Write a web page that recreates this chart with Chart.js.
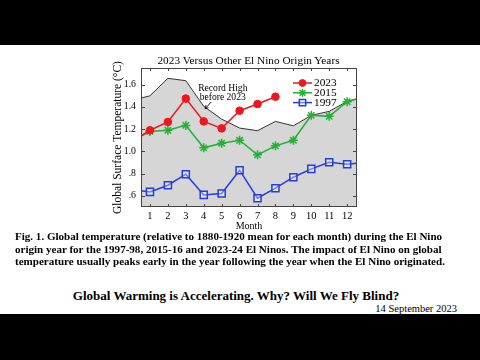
<!DOCTYPE html>
<html><head><meta charset="utf-8">
<script src="https://cdn.jsdelivr.net/npm/chart.js@4.4.0/dist/chart.umd.min.js"></script>
<style>
html,body{margin:0;padding:0;background:#000;width:480px;height:360px;overflow:hidden;font-family:"Liberation Serif","Times New Roman",serif;}
#page{position:absolute;left:0;top:45px;width:480px;height:269px;background:#fff;}
#chart{position:absolute;left:0;top:0;}
.t{position:absolute;white-space:nowrap;color:#000;}
#title{left:0;width:497px;text-align:center;top:8px;font-size:11.3px;line-height:14px;}
.cap{left:15px;font-weight:bold;font-size:11.05px;line-height:12.3px;}
#head{left:0;width:472px;text-align:center;top:243px;font-weight:bold;font-size:13px;line-height:16px;}
#date{right:23px;top:258px;font-size:10.5px;line-height:12px;}
</style></head>
<body>
<div id="page">
<canvas id="chart" width="480" height="190"></canvas>
<div class="t" id="title">2023 Versus Other El Nino Origin Years</div>
<div class="t cap" style="top:185px">Fig. 1. Global temperature (relative to 1880-1920 mean for each month) during the El Nino</div>
<div class="t cap" style="top:197.5px">origin year for the 1997-98, 2015-16 and 2023-24 El Ninos. The impact of El Nino on global</div>
<div class="t cap" style="top:210px">temperature usually peaks early in the year following the year when the El Nino originated.</div>
<div class="t" id="head">Global Warming is Accelerating. Why? Will We Fly Blind?</div>
<div class="t" id="date">14 September 2023</div>
</div>
<script>
// month index: 0 = previous December (edge of plot), 13 = following January (edge of plot)
const months = [0,1,2,3,4,5,6,7,8,9,10,11,12,13];
const y2023 = [1.09,1.19,1.265,1.475,1.27,1.207,1.366,1.426,1.492,null,null,null,null,null];
const y2015 = [1.09,1.18,1.19,1.234,1.032,1.074,1.10,0.969,1.05,1.10,1.324,1.315,1.447,1.49];
const y1997 = [0.655,0.636,0.696,0.795,0.609,0.621,0.831,0.579,0.669,0.768,0.843,0.903,0.885,0.90];
const recordHigh = [1.46,1.50,1.657,1.636,1.405,1.29,1.21,1.186,1.27,1.23,1.324,1.36,1.45,1.494];
const xTicks = [1,2,3,4,5,6,7,8,9,10,11,12];
const yTicks = [0.6,0.8,1.0,1.2,1.4,1.6];
const yTickLabels = ['.6','.8','1.0','1.2','1.4','1.6'];
const seriesNames = ['2023','2015','1997'];
const annotation = {lines:['Record High','before 2023'], x:4.08, y:1.385};

const RED='rgb(236,24,30)', GREEN='rgb(34,177,52)', BLUE='rgb(35,60,225)';
const toXY = arr => months.map((m,i)=>({x:m,y:arr[i]}));
const serif = '"Liberation Serif","Times New Roman",serif';

const framePlugin = {
  id:'frame',
  afterDatasetsDraw(chart){
    const {ctx, chartArea:a, scales:{x,y}} = chart;
    ctx.save();
    ctx.strokeStyle='#444'; ctx.lineWidth=1;
    ctx.strokeRect(a.left+0.5,a.top+0.5,a.right-a.left-1,a.bottom-a.top-1);
    ctx.beginPath();
    yTicks.forEach(v=>{const p=Math.round(y.getPixelForValue(v))+0.5;
      ctx.moveTo(a.left,p);ctx.lineTo(a.left+4,p);ctx.moveTo(a.right,p);ctx.lineTo(a.right-4,p);});
    xTicks.forEach(v=>{const p=Math.round(x.getPixelForValue(v))+0.5;
      ctx.moveTo(p,a.bottom);ctx.lineTo(p,a.bottom-3);ctx.moveTo(p,a.top);ctx.lineTo(p,a.top+3);});
    ctx.stroke();
    // annotation
    const ax=x.getPixelForValue(annotation.x), ay=y.getPixelForValue(annotation.y);
    ctx.fillStyle='#000'; ctx.font='9.6px '+serif; ctx.textAlign='left'; ctx.textBaseline='middle';
    ctx.fillText(annotation.lines[0], ax-7, ay-20.5);
    ctx.fillText(annotation.lines[1], ax-5.5, ay-11.5);
    ctx.beginPath(); ctx.strokeStyle='#000'; ctx.lineWidth=0.9;
    ctx.moveTo(ax+6,ay-6.5); ctx.lineTo(ax,ay);
    ctx.moveTo(ax,ay); ctx.lineTo(ax+0.8,ay-3.5); ctx.moveTo(ax,ay); ctx.lineTo(ax+3.3,ay-0.8);
    ctx.stroke();
    // legend
    const ds = chart.data.datasets.slice(0,3);
    const lx0=a.right-64, lx1=a.right-45, ly0=a.top+15;
    ds.forEach((d,i)=>{
      const ly=ly0+i*9.8;
      ctx.beginPath(); ctx.strokeStyle=d.borderColor; ctx.lineWidth=1.5;
      ctx.moveTo(lx0,ly); ctx.lineTo(lx1,ly); ctx.stroke();
      ctx.fillStyle=d.pointBackgroundColor; ctx.strokeStyle=d.pointBorderColor; ctx.lineWidth=d.pointBorderWidth;
      Chart.helpers.drawPoint(ctx,{pointStyle:d.pointStyle,radius:d.pointRadius*0.9,borderWidth:d.pointBorderWidth},(lx0+lx1)/2,ly);
      ctx.fillStyle='#000'; ctx.font='11.3px '+serif; ctx.textAlign='left'; ctx.textBaseline='middle';
      ctx.fillText(seriesNames[i], lx1+2, ly+0.5);
    });
    ctx.restore();
  }
};

new Chart(document.getElementById('chart'),{
  type:'line',
  data:{datasets:[
    {label:seriesNames[0],data:toXY(y2023),borderColor:RED,backgroundColor:RED,borderWidth:1.5,pointStyle:'circle',pointRadius:3.8,pointBorderWidth:1,pointBackgroundColor:RED,pointBorderColor:RED,clip:0,order:1},
    {label:seriesNames[1],data:toXY(y2015),borderColor:GREEN,backgroundColor:GREEN,borderWidth:1.5,pointStyle:'star',pointRadius:4.5,pointBorderWidth:1.5,pointBackgroundColor:GREEN,pointBorderColor:GREEN,clip:0,order:2},
    {label:seriesNames[2],data:toXY(y1997),borderColor:BLUE,backgroundColor:'rgba(0,0,0,0)',borderWidth:1.5,pointStyle:'rect',pointRadius:5,pointBorderWidth:1.5,pointBorderColor:BLUE,pointBackgroundColor:'rgba(255,255,255,0.35)',clip:0,order:3},
    {label:'Record High',data:toXY(recordHigh),borderColor:'#333',backgroundColor:'rgb(214,214,214)',borderWidth:1,pointRadius:0,fill:'start',clip:0,order:4}
  ]},
  options:{
    responsive:false, animation:false, devicePixelRatio:1,
    layout:{padding:{top:23,right:123,left:0,bottom:0}},
    plugins:{legend:{display:false},tooltip:{enabled:false},title:{display:false}},
    elements:{line:{tension:0}},
    scales:{
      x:{type:'linear',min:0.5,max:12.55,
        afterBuildTicks:s=>{s.ticks=xTicks.map(v=>({value:v}));},
        afterFit:s=>{s.height=28;},
        grid:{display:false,drawTicks:false},border:{display:false},
        ticks:{padding:3,color:'#000',font:{family:serif,size:10.5},autoSkip:false,maxRotation:0,callback:v=>String(v)},
        title:{display:true,text:'Month',color:'#000',font:{family:serif,size:10},padding:{top:0,bottom:3}}},
      y:{type:'linear',min:0.5,max:1.75,
        afterBuildTicks:s=>{s.ticks=yTicks.map(v=>({value:v}));},
        afterFit:s=>{s.width=141;},
        grid:{display:false,drawTicks:false},border:{display:false},
        ticks:{padding:5,color:'#000',font:{family:serif,size:9.8},callback:(v)=>yTickLabels[yTicks.findIndex(t=>Math.abs(t-v)<1e-6)]},
        title:{display:true,text:'Global Surface Temperature (°C)',color:'#000',font:{family:serif,size:11.5},padding:{top:111,bottom:0}}}
    }
  },
  plugins:[framePlugin]
});
</script>
</body></html>
